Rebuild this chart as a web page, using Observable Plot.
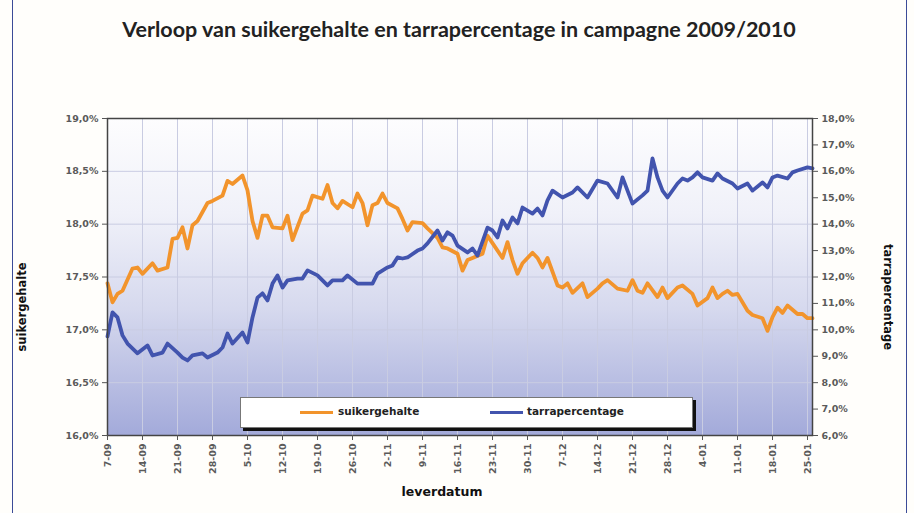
<!DOCTYPE html>
<html><head><meta charset="utf-8">
<script src="https://cdn.jsdelivr.net/npm/d3@7"></script>
<script src="https://cdn.jsdelivr.net/npm/@observablehq/plot@0.6"></script>
<style>
body{margin:0;background:#fff;font-family:"DejaVu Sans",sans-serif;}
#wrap{position:relative;width:914px;height:513px;overflow:hidden;background:#fffefb;}
#chart{position:absolute;left:0;top:0;}
#border{position:absolute;left:12px;top:-5px;width:893px;height:530px;border:1.5px solid #3b4b98;pointer-events:none;}
#title{position:absolute;left:0;top:16px;width:918px;text-align:center;font:bold 21.5px Lato,sans-serif;color:#222;}
.ytitle{position:absolute;font:bold 11.5px "DejaVu Sans",sans-serif;color:#111;white-space:nowrap;transform-origin:center center;}
#xtitle{position:absolute;left:0;width:884px;top:484px;text-align:center;font:bold 12.5px "DejaVu Sans",sans-serif;color:#111;}
#legend{position:absolute;left:240px;top:397px;width:451px;height:29px;background:#fff;border:1px solid #777;box-shadow:3px 3px 0 #111;}
.lg-line{position:absolute;top:13px;width:33px;height:3px;}
.lg-txt{position:absolute;top:7px;font:bold 10.5px "DejaVu Sans",sans-serif;color:#222;}
</style></head>
<body>
<div id="wrap">
  <div id="chart"></div>
  <div id="title">Verloop van suikergehalte en tarrapercentage in campagne 2009/2010</div>
  <div class="ytitle" id="yl">suikergehalte</div>
  <div class="ytitle" id="yr">tarrapercentage</div>
  <div id="xtitle">leverdatum</div>
  <div id="legend"></div>
  <div id="border"></div>
</div>
<script>
// ---- data ----
const startDate = "2009-09-07";
const tickLabels = ["7-09","14-09","21-09","28-09","5-10","12-10","19-10","26-10","2-11","9-11","16-11","23-11","30-11","7-12","14-12","21-12","28-12","4-01","11-01","18-01","25-01"];
const leftTicks = [16.0,16.5,17.0,17.5,18.0,18.5,19.0];
const rightTicks = [6,7,8,9,10,11,12,13,14,15,16,17,18];
const seriesNames = ["suikergehalte","tarrapercentage"];
const seriesColors = ["#f2942c","#4254ae"];

// day offsets from startDate
const sugarDays = [0,1,2,3,5,6,7,9,10,12,13,14,15,16,17,18,20,21,23,24,25,27,28,29,30,31,32,33,35,36,37,39,40,41,43,44,45,46,47,49,50,51,52,53,54,55,56,58,59,60,61,63,64,66,67,68,70,71,72,73,75,76,77,79,80,81,82,83,85,86,87,88,90,91,92,93,95,96,98,99,100,102,104,105,106,107,108,110,111,112,114,115,117,118,120,121,122,123,124,125,126,128,129,131,132,133,134,135,136,138,139,140,141];
const sugarValues = [17.44,17.26,17.34,17.37,17.58,17.59,17.53,17.63,17.56,17.59,17.86,17.87,17.97,17.77,17.99,18.03,18.20,18.22,18.27,18.41,18.38,18.46,18.32,18.03,17.87,18.08,18.08,17.97,17.96,18.08,17.85,18.10,18.13,18.27,18.24,18.37,18.20,18.15,18.22,18.16,18.29,18.20,17.99,18.18,18.20,18.29,18.20,18.15,18.05,17.94,18.02,18.01,17.96,17.87,17.78,17.77,17.72,17.56,17.66,17.68,17.72,17.89,17.82,17.68,17.83,17.66,17.53,17.63,17.73,17.68,17.59,17.68,17.42,17.40,17.44,17.35,17.44,17.31,17.39,17.44,17.47,17.39,17.37,17.47,17.37,17.35,17.44,17.31,17.40,17.30,17.40,17.42,17.34,17.23,17.30,17.40,17.30,17.34,17.37,17.33,17.34,17.18,17.14,17.11,16.99,17.12,17.21,17.16,17.23,17.15,17.15,17.11,17.11];

const tarraDays = [0,1,2,3,4,6,8,9,11,12,14,15,16,17,19,20,22,23,24,25,27,28,29,30,31,32,33,34,35,36,38,39,40,42,44,45,47,48,50,51,53,54,56,57,58,59,60,62,63,64,66,67,68,69,70,72,73,74,76,77,78,79,80,81,82,83,85,86,87,88,89,91,93,94,96,98,100,102,103,104,105,107,108,109,110,111,112,114,115,116,117,118,119,121,122,123,125,126,128,129,131,132,133,134,136,137,138,140,141];
const tarraValues = [9.75,10.66,10.47,9.79,9.48,9.11,9.41,9.03,9.14,9.48,9.14,8.95,8.84,9.03,9.11,8.95,9.14,9.33,9.86,9.48,9.90,9.52,10.47,11.22,11.38,11.11,11.75,12.06,11.60,11.87,11.94,11.94,12.25,12.06,11.68,11.87,11.87,12.06,11.75,11.75,11.75,12.13,12.36,12.44,12.74,12.70,12.74,13.00,13.08,13.27,13.76,13.38,13.69,13.57,13.19,12.93,13.08,12.81,13.87,13.76,13.50,14.14,13.84,14.25,14.03,14.63,14.40,14.59,14.33,14.90,15.27,15.01,15.20,15.39,15.01,15.65,15.54,15.01,15.77,15.27,14.78,15.09,15.27,16.49,15.77,15.27,15.01,15.54,15.73,15.65,15.77,15.96,15.77,15.65,15.92,15.73,15.54,15.35,15.54,15.27,15.58,15.39,15.77,15.84,15.73,15.96,16.03,16.15,16.11];

// ---- helpers ----
const start = new Date(startDate + "T00:00:00Z");
const dayToDate = d => d3.utcDay.offset(start, d);
const labelToDate = s => { const [dd, mm] = s.split("-").map(Number); return new Date(Date.UTC(mm >= 9 ? 2009 : 2010, mm - 1, dd)); };
const tickDates = tickLabels.map(labelToDate);
const labelMap = new Map(tickDates.map((d, i) => [+d, tickLabels[i]]));
// secondary axis (6%..18%) mapped onto primary (16%..19%)
const tToY = t => 16 + (t - 6) * 3 / 12;
const yToT = y => 6 + (y - 16) * 12 / 3;
const pct = v => v.toFixed(1).replace(".", ",") + "%";

const sugar = sugarDays.map((d, i) => ({date: dayToDate(d), v: sugarValues[i]}));
const tarra = tarraDays.map((d, i) => ({date: dayToDate(d), v: tToY(tarraValues[i])}));

const chart = Plot.plot({
  width: 914, height: 513,
  marginLeft: 107, marginRight: 102, marginTop: 118, marginBottom: 78,
  style: {fontFamily: "DejaVu Sans, sans-serif", fontWeight: "bold", fontSize: "9.5px", color: "#5a5a5a", background: "transparent"},
  x: {type: "utc", domain: [dayToDate(0), dayToDate(141)]},
  y: {domain: [16, 19]},
  marks: [
    Plot.frame({fill: "url(#plotbg)"}),
    Plot.gridY(leftTicks, {stroke: "#c9cce2", strokeOpacity: 1, strokeWidth: 1}),
    Plot.gridX(tickDates, {stroke: "#c9cce2", strokeOpacity: 1, strokeWidth: 1}),
    Plot.line(sugar, {x: "date", y: "v", stroke: seriesColors[0], strokeWidth: 3.8, curve: "linear"}),
    Plot.line(tarra, {x: "date", y: "v", stroke: seriesColors[1], strokeWidth: 3.8, curve: "linear"}),
    Plot.frame({stroke: "#444", strokeWidth: 1.5}),
    Plot.axisY(leftTicks, {anchor: "left", tickFormat: pct, tickSize: 5, tickPadding: 4, label: null, stroke: "#555"}),
    Plot.axisY(rightTicks.map(tToY), {anchor: "right", tickFormat: v => pct(yToT(v)), tickSize: 5, tickPadding: 4, label: null, stroke: "#555"}),
    Plot.axisX(tickDates, {anchor: "bottom", tickFormat: d => labelMap.get(+d), tickRotate: -90, tickSize: 5, tickPadding: 3, label: null, stroke: "#555"})
  ]
});
d3.select(chart).insert("defs", ":first-child").html(
  `<linearGradient id="plotbg" x1="0" y1="0" x2="0" y2="1">
     <stop offset="0" stop-color="#fdfdfe"/>
     <stop offset="0.3" stop-color="#f0f1f9"/>
     <stop offset="0.6" stop-color="#d6d9ee"/>
     <stop offset="1" stop-color="#a3aada"/>
   </linearGradient>`);
document.getElementById("chart").appendChild(chart);

// axis titles
const yl = document.getElementById("yl");
yl.style.left = (22 - 50) + "px"; yl.style.top = "300px"; yl.style.width = "100px"; yl.style.textAlign = "center";
yl.style.transform = "rotate(-90deg)";
const yr = document.getElementById("yr");
yr.style.left = (888 - 60) + "px"; yr.style.top = "290px"; yr.style.width = "120px"; yr.style.textAlign = "center";
yr.style.transform = "rotate(90deg)";

// legend
const lg = d3.select("#legend");
const lgPos = [{line: 59, txt: 97}, {line: 249, txt: 286}];
seriesNames.forEach((n, i) => {
  lg.append("div").attr("class", "lg-line").style("left", lgPos[i].line + "px").style("background", seriesColors[i]);
  lg.append("div").attr("class", "lg-txt").style("left", lgPos[i].txt + "px").text(n);
});
</script>
</body></html>
